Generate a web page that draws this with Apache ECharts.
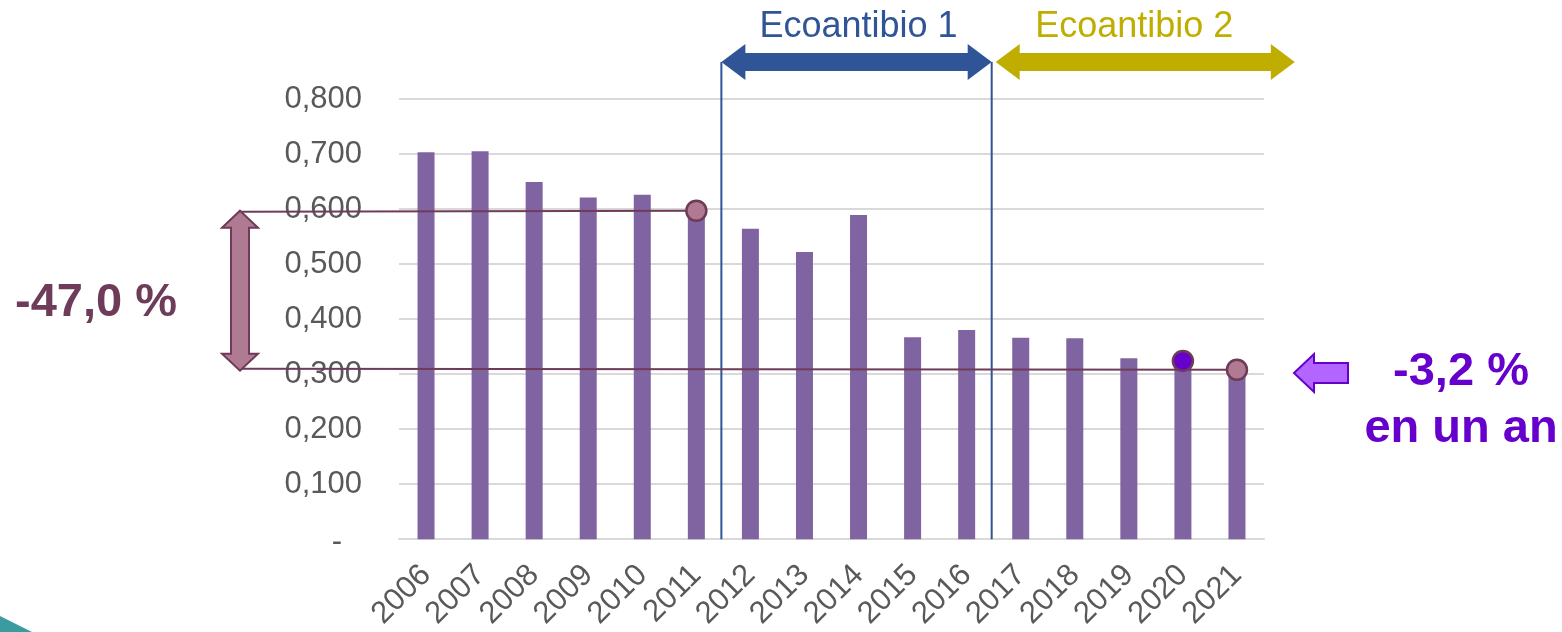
<!DOCTYPE html>
<html><head><meta charset="utf-8">
<script src="https://cdn.jsdelivr.net/npm/echarts@6/dist/echarts.min.js"></script>
<style>html,body{margin:0;padding:0;background:#fff}#c{width:1562px;height:632px}</style>
</head><body><div id="c"></div>
<script>
// ---- data ----
const years = ['2006','2007','2008','2009','2010','2011','2012','2013','2014','2015','2016','2017','2018','2019','2020','2021'];
const values = [0.703,0.705,0.649,0.621,0.626,0.597,0.564,0.522,0.589,0.367,0.380,0.366,0.365,0.329,0.324,0.308];
const yMin = 0, yMax = 0.8, yStep = 0.1;
const periodLabels = ['Ecoantibio 1','Ecoantibio 2'];
const periodStarts = ['2012','2017'];
const refYear = '2011', prevYear = '2020', lastYear = '2021';
const changeLabels = ['-47,0 %','-3,2 %','en un an'];

const FONT = '"Liberation Sans", Arial, sans-serif';
const chart = echarts.init(document.getElementById('c'), null, {renderer:'canvas'});
chart.setOption({
  animation:false,
  grid:{left:399,right:298,top:99,bottom:91,containLabel:false},
  xAxis:{type:'category',data:years,
    axisLine:{lineStyle:{color:'#D9D9D9',width:2}},
    axisTick:{show:false},
    axisLabel:{rotate:45,interval:0,fontSize:31,color:'#595959',fontFamily:FONT,margin:31}},
  yAxis:{type:'value',min:yMin,max:yMax,interval:yStep,
    axisLine:{show:false},axisTick:{show:false},
    splitLine:{lineStyle:{color:'#D9D9D9',width:2}},
    axisLabel:{fontSize:31,color:'#595959',fontFamily:FONT,margin:37,
      formatter:v=>Math.abs(v)<1e-9?'{d|-}':v.toFixed(3).replace('.',','),
      rich:{d:{fontSize:31,color:'#595959',fontFamily:FONT,padding:[6,20,0,0]}}}},
  series:[{type:'bar',data:values,barWidth:17,itemStyle:{color:'#8064A2'}}]
});

function px(year, v){ return chart.convertToPixel({gridIndex:0},[years.indexOf(year), v]); }
function valOf(y){ return values[years.indexOf(y)]; }
function hArrow(x1,x2,y,hl,hh,sh){
  return [[x1,y],[x1+hl,y-hh],[x1+hl,y-sh],[x2-hl,y-sh],[x2-hl,y-hh],[x2,y],[x2-hl,y+hh],[x2-hl,y+sh],[x1+hl,y+sh],[x1+hl,y+hh]];
}
function vArrow(x,y1,y2,hl,hh,sh){
  return [[x,y1],[x+hh,y1+hl],[x+sh,y1+hl],[x+sh,y2-hl],[x+hh,y2-hl],[x,y2],[x-hh,y2-hl],[x-sh,y2-hl],[x-sh,y1+hl],[x-hh,y1+hl]];
}

const step = px(years[1],0)[0]-px(years[0],0)[0];
const zeroY = px(years[0],0)[1];
const b1 = px(periodStarts[0],0)[0]-step/2 - 2;
const b2 = px(periodStarts[1],0)[0]-step/2 - 2;
const endX = px(years[years.length-1],0)[0] + step*1.07;
const arrowY = 62;
const refP = px(refYear, valOf(refYear));
const prevP = px(prevYear, valOf(prevYear));
const lastP = px(lastYear, valOf(lastYear));
const leftX = 240;
const MAUVE = '#6E3B58', MAUVE_FILL = '#AF7A92';
const BLUE = '#2F5597', GOLD = '#BFAE00', PURPLE = '#6600CC';

const g = [];
// corner decoration
g.push({type:'polygon',shape:{points:[[0,616],[32,632],[0,632]]},style:{fill:'#3A9C9F'},z:1});
// period separators
[b1,b2].forEach(x=>g.push({type:'line',shape:{x1:x,y1:arrowY,x2:x,y2:zeroY},style:{stroke:BLUE,lineWidth:2},z:3}));
// period arrows
g.push({type:'polygon',shape:{points:hArrow(b1,b2,arrowY,24,18,9)},style:{fill:BLUE},z:4});
g.push({type:'polygon',shape:{points:hArrow(b2+4,endX,arrowY,24,18,9)},style:{fill:GOLD},z:4});
g.push({type:'text',style:{text:periodLabels[0],x:(b1+b2)/2+2,y:27,fill:BLUE,font:'36px '+FONT,align:'center',verticalAlign:'middle'},z:4});
g.push({type:'text',style:{text:periodLabels[1],x:(b2+endX)/2-9,y:27,fill:GOLD,font:'36px '+FONT,align:'center',verticalAlign:'middle'},z:4});
// reference lines
g.push({type:'line',shape:{x1:leftX,y1:refP[1]+1,x2:refP[0],y2:refP[1]},style:{stroke:MAUVE,lineWidth:2},z:5});
g.push({type:'line',shape:{x1:leftX,y1:lastP[1]-1,x2:lastP[0],y2:lastP[1]},style:{stroke:MAUVE,lineWidth:2},z:5});
// left double arrow
g.push({type:'polygon',shape:{points:vArrow(leftX,refP[1],lastP[1]+1,17,18,9)},style:{fill:MAUVE_FILL,stroke:MAUVE,lineWidth:2},z:6});
g.push({type:'text',style:{text:changeLabels[0],x:96,y:303,fill:MAUVE,font:'bold 47px '+FONT,align:'center',verticalAlign:'middle'},z:6});
// circles
g.push({type:'circle',shape:{cx:refP[0],cy:refP[1],r:10},style:{fill:MAUVE_FILL,stroke:MAUVE,lineWidth:2.5},z:7});
g.push({type:'circle',shape:{cx:prevP[0],cy:prevP[1],r:10},style:{fill:PURPLE,stroke:MAUVE,lineWidth:2.5},z:7});
g.push({type:'circle',shape:{cx:lastP[0],cy:lastP[1],r:10},style:{fill:MAUVE_FILL,stroke:MAUVE,lineWidth:2.5},z:7});
// right arrow + text
const ay = 373;
g.push({type:'polygon',shape:{points:[[1294,ay],[1314,ay-19],[1314,ay-10],[1348,ay-10],[1348,ay+10],[1314,ay+10],[1314,ay+19]]},style:{fill:'#B266FF',stroke:PURPLE,lineWidth:2},z:6});
g.push({type:'text',style:{text:changeLabels[1],x:1461,y:372,fill:PURPLE,font:'bold 47px '+FONT,align:'center',verticalAlign:'middle'},z:6});
g.push({type:'text',style:{text:changeLabels[2],x:1461,y:429,fill:PURPLE,font:'bold 47px '+FONT,align:'center',verticalAlign:'middle'},z:6});

chart.setOption({graphic:{elements:g}});
</script></body></html>
